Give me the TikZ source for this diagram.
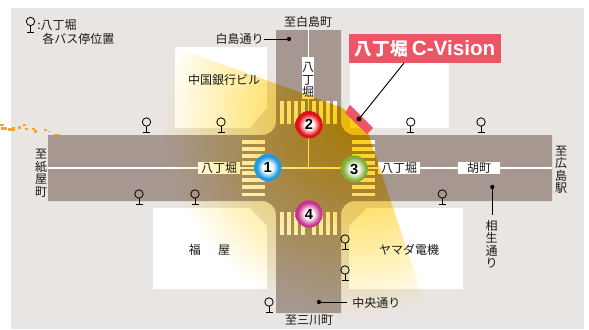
\documentclass[tikz,border=0pt]{standalone}
\usepackage{fontspec}
\setmainfont{Noto Sans CJK JP}
\newfontfamily\latinb[BoldFont=Liberation Sans Bold]{Liberation Sans}
\usetikzlibrary{calc}
\definecolor{bgc}{HTML}{E9E5E2}
\definecolor{roadc}{HTML}{A69891}
\definecolor{redc}{HTML}{EC5564}
\definecolor{bluec}{HTML}{1E9BE0}
\definecolor{rubyc}{HTML}{E0101A}
\definecolor{greenc}{HTML}{7FAE35}
\definecolor{pinkc}{HTML}{C7328F}
\definecolor{speck}{HTML}{F6A623}
\pgfdeclareradialshading{beamshade}{\pgfpoint{0bp}{0bp}}{
 rgb(0bp)=(1,0.80,0);
 rgb(8.5bp)=(1,0.86,0.33);
 rgb(16.5bp)=(1,0.93,0.65);
 rgb(25bp)=(1,1,1);
 rgb(50bp)=(1,1,1)}
\pgfdeclareradialshading{ballblue}{\pgfpoint{0bp}{0bp}}{color(0bp)=(white);color(9bp)=(white);color(20bp)=(bluec);color(50bp)=(bluec)}
\pgfdeclareradialshading{ballred}{\pgfpoint{0bp}{0bp}}{color(0bp)=(white);color(8bp)=(white);color(20bp)=(rubyc);color(50bp)=(rubyc)}
\pgfdeclareradialshading{ballgreen}{\pgfpoint{0bp}{0bp}}{color(0bp)=(white);color(8bp)=(white);color(21bp)=(greenc);color(50bp)=(greenc)}
\pgfdeclareradialshading{ballpink}{\pgfpoint{0bp}{0bp}}{color(0bp)=(white);color(8bp)=(white);color(21bp)=(pinkc);color(50bp)=(pinkc)}
\tikzset{
 x=0.75pt,y=-0.75pt,
 bldg/.style={fill=white,draw=none},
 lab/.style={font=\fontsize{9}{9}\selectfont,inner sep=0pt,text=black!90},
 vlab/.style={lab,align=center,font=\fontsize{9}{9.4}\selectfont},
 roadlab/.style={lab,fill=white,minimum height=9pt,minimum width=31.5pt},
 ball/.style={circle,minimum size=20.5pt,inner sep=0pt,font=\fontsize{11}{11}\latinb\bfseries},
 pin/.style={circle,fill=black,inner sep=0pt,minimum size=3.2pt},
 thinline/.style={draw=black,line width=0.7pt},
 stripe/.style={fill=white,draw=none},
 busstop/.pic={\draw[black,line width=0.6pt,fill=none] (0,0) circle (4.2);
   \draw[black,line width=0.75pt] (0,4.2) -- (0,11);
   \draw[black,line width=0.75pt] (-3.5,10.5) -- (3.5,10.5);},
}
\begin{document}
\begin{tikzpicture}
\useasboundingbox (0,0) rectangle (589,329);
\fill[white] (0,0) rectangle (589,329);
\fill[bgc] (11,8) rectangle (584,329);
% stray specks
\foreach \a/\b/\c/\d in {0/124/4/2,1/127/6/3,8/128/7/3,12/127/3/2,18/126/3/3,23/124/3/2,25/128/3/2,32/128/3/2,34/130/3/3,44/129/3/2,48/131/2/1,54/134/6/1}
 \fill[speck] (\a,\b) rectangle ++(\c,\d);
% buildings
\fill[bldg] (175,47) -- (267,47) -- (267,108) -- (250,128) -- (175,128) -- cycle;
\fill[bldg] (350,60) -- (449,60) -- (449,128) -- (350,128) -- cycle;
\fill[bldg] (153,208) -- (250,208) -- (267,226) -- (267,289) -- (153,289) -- cycle;
\fill[bldg] (367,208) -- (463,208) -- (463,289) -- (349,289) -- (349,226) -- cycle;
% road
\fill[roadc] (276,30) -- (341,30) -- (341,121) .. controls (341,129) and (347,135) .. (355,135)
 -- (552,135) -- (552,201) -- (355,201) .. controls (347,201) and (341,207) .. (341,215)
 -- (341,313) -- (276,313) -- (276,215) .. controls (276,207) and (270,201) .. (262,201)
 -- (48,201) -- (48,135) -- (262,135) .. controls (270,135) and (276,129) .. (276,121) -- cycle;
% centre lines
\fill[white] (48,167.2) rectangle (552,168.9);
\fill[white] (307.7,28) rectangle (309.3,168);
% crossings
\foreach \d in {-26.4,-19.3,-12.3,-5.3,5.3,12.3,19.3,26.4}{
 \fill[stripe] (242,168+\d-1.9) rectangle (265,168+\d+1.9);
 \fill[stripe] (352,168+\d-1.9) rectangle (375,168+\d+1.9);
 \fill[stripe] (308.4+\d-1.9,101) rectangle (308.4+\d+1.9,123.5);
 \fill[stripe] (308.4+\d-1.9,212) rectangle (308.4+\d+1.9,235);
}
% road name plates
\node[fill=white,minimum width=9pt,minimum height=31pt,inner sep=0pt] (platev) at (308,78) {};
\node[roadlab] (hachiW) at (219,168) {八丁堀};
\node[roadlab] (hachiE) at (399,168) {八丁堀};
\node[roadlab] (kocho) at (479,168) {胡町};
% light beam
\begin{scope}[blend mode=multiply]
 \clip (175,47) -- (343,108) -- (368,133) -- (423,298) -- (423,329) -- (0,329) -- (0,47) -- cycle;
 \shade[shading=beamshade] (358,120) circle (196);
\end{scope}
% screen and label
\fill[redc] (345,113) -- (350,105) -- (373,128) -- (367,134) -- cycle;
\node[fill=redc,text=white,inner sep=0pt,minimum width=114pt,minimum height=22pt] (cv) at (425,48.5)
 {\fontsize{13.3}{13}\selectfont\bfseries 八丁堀\ \fontsize{15.5}{15}\latinb\bfseries C-Vision};
\node[pin,minimum size=3.6pt] (screen) at (359,119) {};
\coordinate (cvend) at (404,63);
\draw[thinline] (cvend) -- (screen);
% signal balls
\node[ball,shading=ballblue] (b1) at (267.7,167.5) {1};
\node[ball,shading=ballred] (b2) at (309,124.7) {2};
\node[ball,shading=ballgreen] (b3) at (354.3,169) {3};
\node[ball,shading=ballpink] (b4) at (309,214) {4};
% bus stops
\foreach \p in {(30.5,21.5),(146.5,122),(221,122),(410.7,122),(481,122),(139,194),(195,194),(269,302),(442.3,194),(345,239),(345,270)}
 \pic at \p {busstop};
% labels
\node[lab,anchor=west] (lg1) at (37,25) {:八丁堀};
\node[lab,anchor=west] (lg2) at (42,39) {各バス停位置};
\node[lab] (shi) at (308,22) {至白島町};
\node[lab] (hak) at (239.5,39) {白島通り};
\node[pin] (hakp) at (289,39) {};
\draw[thinline] (hak) -- (hakp);
\node[lab] at (224,79.5) {中国銀行ビル};
\node[vlab] at (308,80) {八\\丁\\堀};
\node[vlab] at (41,173.5) {至\\紙\\屋\\町};
\node[vlab] at (561,170) {至\\広\\島\\駅};
\node[lab] at (209.5,250) {福\hspace{13pt}屋};
\node[lab] at (409,250) {ヤマダ電機};
\node[pin] (aip) at (492.3,187) {};
\node[vlab,anchor=north] (aio) at (491.7,220) {相\\生\\通\\り};
\coordinate (aie) at (492.3,215);
\draw[thinline] (aip) -- (aie);
\node[pin] (chp) at (319,302) {};
\node[lab,anchor=west] (chu) at (352,303) {中央通り};
\coordinate (che) at (347,302);
\draw[thinline] (chp) -- (che);
\node[lab] at (309,320) {至三川町};
\end{tikzpicture}
\end{document}
